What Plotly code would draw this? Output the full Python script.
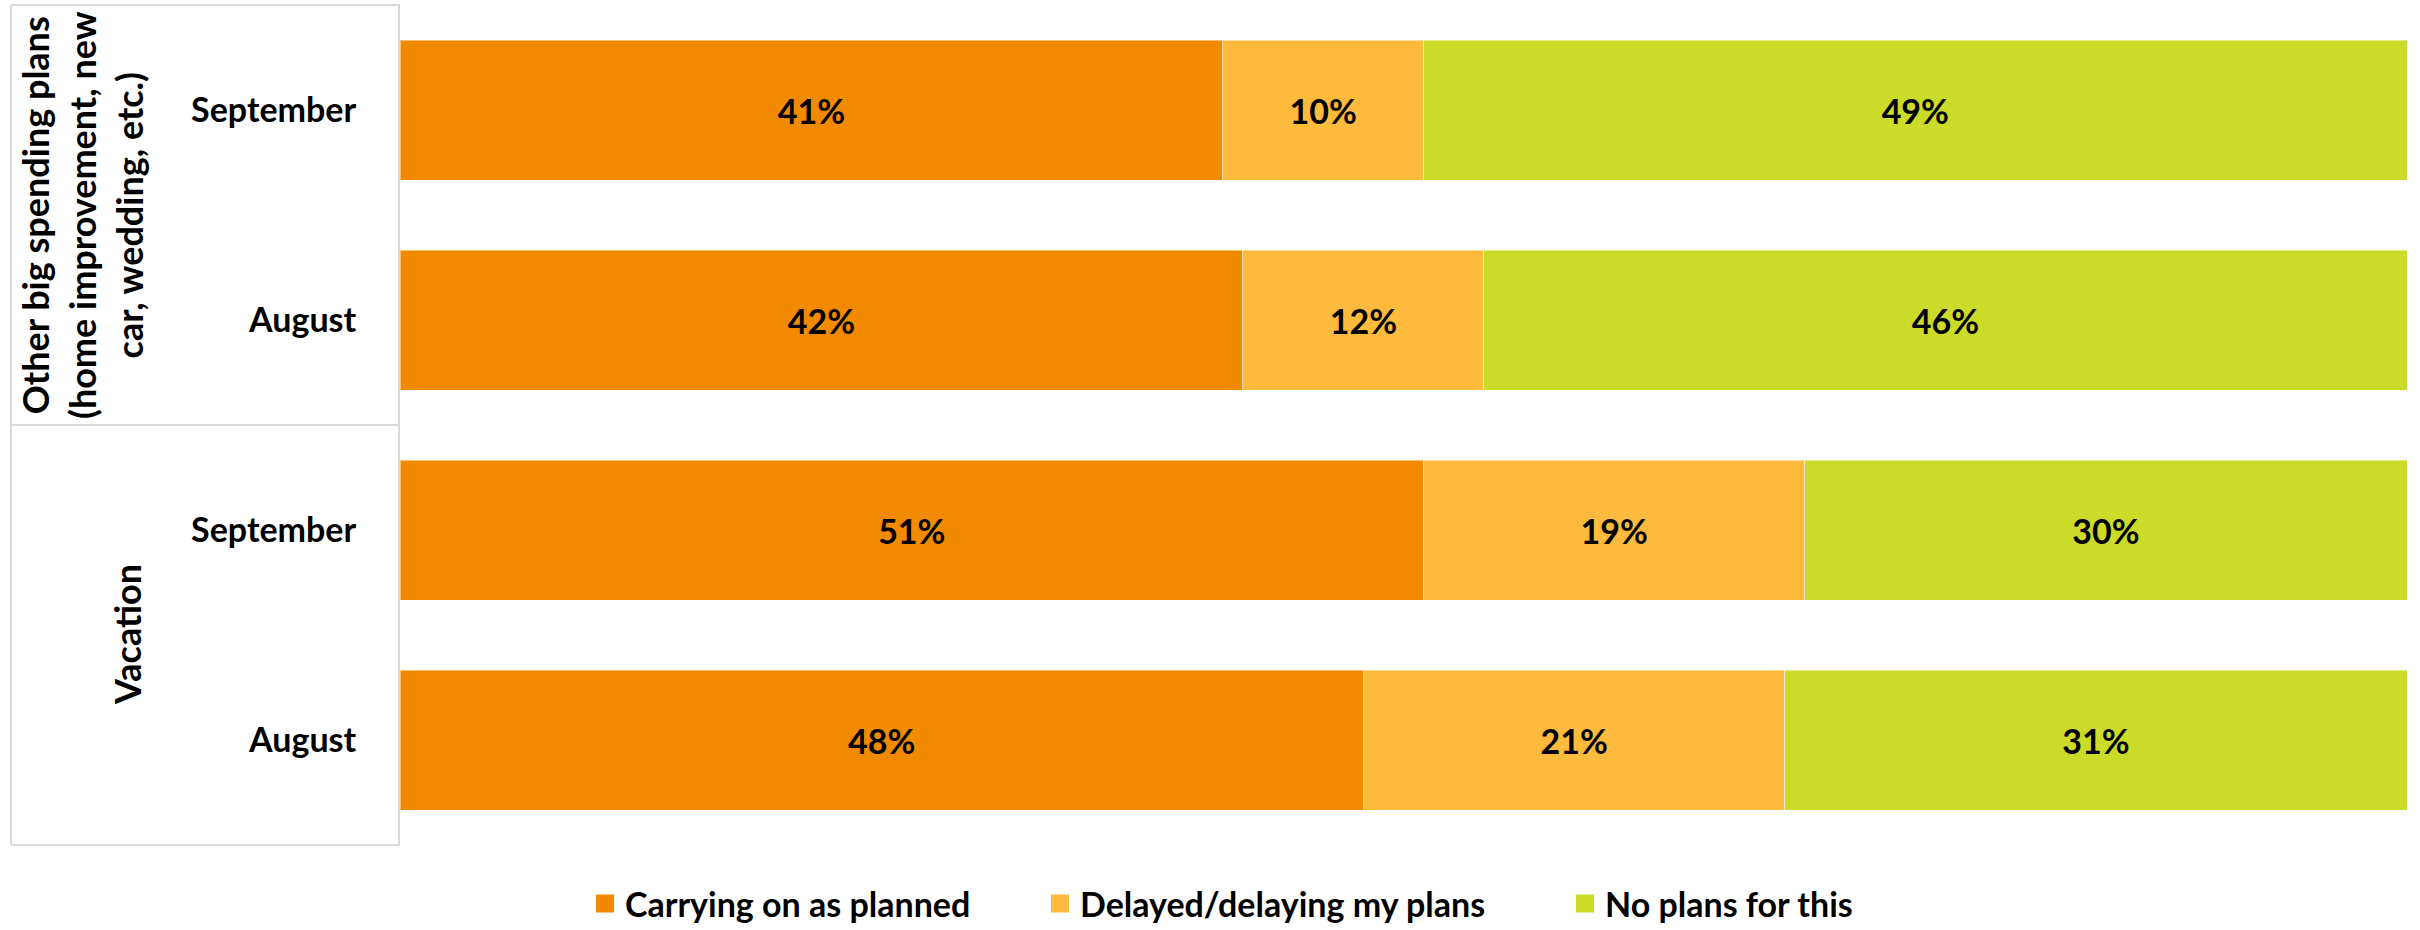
import plotly.graph_objects as go

# Survey rows, top to bottom
row_ids = ["other_sep", "other_aug", "vac_sep", "vac_aug"]
month_labels = ["September", "August", "September", "August"]

group_labels = ["Other big spending plans<br>(home improvement, new<br>car, wedding, etc.)", "Vacation"]

series_names = ["Carrying on as planned", "Delayed/delaying my plans", "No plans for this"]
carrying_on = [41, 42, 51, 48]
delayed = [10, 12, 19, 21]
no_plans = [49, 46, 30, 31]
series_values = [carrying_on, delayed, no_plans]
series_colors = ["#F28A00", "#FDBA3C", "#CADB2A"]

FONT = "Lato, 'Open Sans', sans-serif"
FONT_SIZE = 34
GROUP_FONT_SIZE = 36
W, H = 2420, 930
PLOT_L, PLOT_R, PLOT_T, PLOT_B = 400, 2407, 5, 845
GRID = "#d9d9d9"


def px_to_paper_x(px):
    return (px - PLOT_L) / (PLOT_R - PLOT_L)


fig = go.Figure()
legend_ids = ["legend", "legend2", "legend3"]
for name, vals, color, lg in zip(series_names, series_values, series_colors, legend_ids):
    fig.add_trace(go.Bar(
        y=row_ids,
        x=vals,
        orientation="h",
        name=name,
        marker=dict(color=color, line=dict(color="rgba(255,255,255,0.45)", width=1)),
        text=vals,
        texttemplate="%{text}%",
        textposition="inside",
        insidetextanchor="middle",
        textangle=0,
        textfont=dict(family=FONT, size=FONT_SIZE, color="black", weight="bold"),
        hoverinfo="skip",
        showlegend=False,
        legendgroup=name,
    ))
    # Legend key: a larger square swatch than the default bar key
    fig.add_trace(go.Scatter(
        x=[None],
        y=[None],
        mode="markers",
        name=name,
        marker=dict(symbol="square", size=16, color=color, line=dict(color=color, width=2)),
        hoverinfo="skip",
        showlegend=True,
        legendgroup=name,
        legend=lg,
    ))

# Frame around the category labels, with a divider between the two groups
box_left = px_to_paper_x(11)
line_style = dict(color=GRID, width=2)
shapes = [
    dict(type="line", xref="paper", yref="paper", x0=box_left, x1=0, y0=1, y1=1, line=line_style),
    dict(type="line", xref="paper", yref="paper", x0=box_left, x1=0, y0=0.5, y1=0.5, line=line_style),
    dict(type="line", xref="paper", yref="paper", x0=box_left, x1=0, y0=0, y1=0, line=line_style),
    dict(type="line", xref="paper", yref="paper", x0=box_left, x1=box_left, y0=0, y1=1, line=line_style),
]

group_font = dict(family=FONT, size=GROUP_FONT_SIZE, color="black", weight="bold")
annotations = [
    dict(text=group_labels[0], xref="paper", yref="paper", x=px_to_paper_x(82), y=0.75,
         textangle=-90, showarrow=False, xanchor="center", yanchor="middle", font=group_font),
    dict(text=group_labels[1], xref="paper", yref="paper", x=px_to_paper_x(127), y=0.25,
         textangle=-90, showarrow=False, xanchor="center", yanchor="middle", font=group_font),
]

legend_font = dict(family=FONT, size=FONT_SIZE, color="black", weight="bold")
legend_y = 1 - 904 / H


def legend_at(px):
    return dict(orientation="h", xref="container", yref="container", x=px / W, y=legend_y,
                xanchor="left", yanchor="middle", font=legend_font,
                bgcolor="rgba(0,0,0,0)", borderwidth=0, itemsizing="trace")


fig.update_layout(
    width=W,
    height=H,
    margin=dict(l=PLOT_L, r=W - PLOT_R, t=PLOT_T, b=H - PLOT_B, autoexpand=False),
    paper_bgcolor="white",
    plot_bgcolor="white",
    barmode="stack",
    bargap=1 / 3,
    font=dict(family=FONT, color="black"),
    xaxis=dict(range=[0, 100], visible=False, fixedrange=True),
    yaxis=dict(
        type="category",
        categoryorder="array",
        categoryarray=row_ids,
        autorange="reversed",
        tickvals=row_ids,
        ticktext=month_labels,
        tickfont=dict(family=FONT, size=FONT_SIZE, color="black", weight="bold"),
        ticks="",
        ticklabelstandoff=35,
        showgrid=False,
        zeroline=False,
        showline=True,
        linecolor=GRID,
        linewidth=2,
        fixedrange=True,
    ),
    shapes=shapes,
    annotations=annotations,
    legend=legend_at(585),
    legend2=legend_at(1040),
    legend3=legend_at(1565),
    showlegend=True,
)

fig.write_html("out.html")
